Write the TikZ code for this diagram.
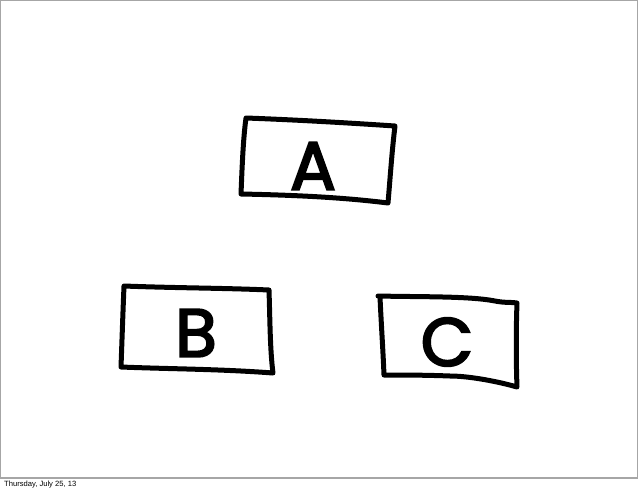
\documentclass[tikz,border=0pt]{standalone}
\usepackage{fontspec}
\setmainfont{Liberation Sans}
\newfontfamily\handfont[FakeBold=3]{Poppins}
\begin{document}
\begin{tikzpicture}[x=1pt,y=-1pt,
  frame/.style={draw=black!35,line width=1.2pt},
  sketch/.style={draw=black,line width=5pt,line cap=round,line join=round},
  letter/.style={font=\handfont\fontsize{68}{68}\selectfont,inner sep=0pt}]
\useasboundingbox (0,0) rectangle (638,491);
\fill[white] (0,0) rectangle (638,491);
\draw[frame] (0.6,0.6) -- (637.2,0.6) -- (637.2,478) -- (0.6,478) -- cycle;
\node[anchor=west,font=\fontsize{7.6}{8}\selectfont,inner sep=0pt] (foot) at (4,485) {Thursday, July 25, 13};
% Box A
\draw[sketch] (246,118) .. controls (300,120) and (350,123) .. (395,126)
  .. controls (392,150) and (390,180) .. (388,203)
  .. controls (340,197) and (290,195) .. (241,194)
  .. controls (242,170) and (243,140) .. (246,118);
\node[letter] (A) at (313,166) {A};
% Box B
\draw[sketch] (124,286) .. controls (175,288) and (225,288) .. (269,290)
  .. controls (270,320) and (270,350) .. (273,373)
  .. controls (220,369) and (170,369) .. (121,367)
  .. controls (122,340) and (123,310) .. (124,286);
\node[letter] (B) at (196,333) {B};
% Box C
\draw[sketch] (378,296) .. controls (420,297) and (470,296) .. (495,301)
  .. controls (505,303) and (512,302) .. (517,303)
  .. controls (516,330) and (516,360) .. (517,387)
  .. controls (500,382) and (470,376) .. (450,376)
  .. controls (425,375) and (400,375) .. (384,375)
  .. controls (383,350) and (381,320) .. (380,297);
\node[letter] (C) at (447,342) {C};
\end{tikzpicture}
\end{document}
